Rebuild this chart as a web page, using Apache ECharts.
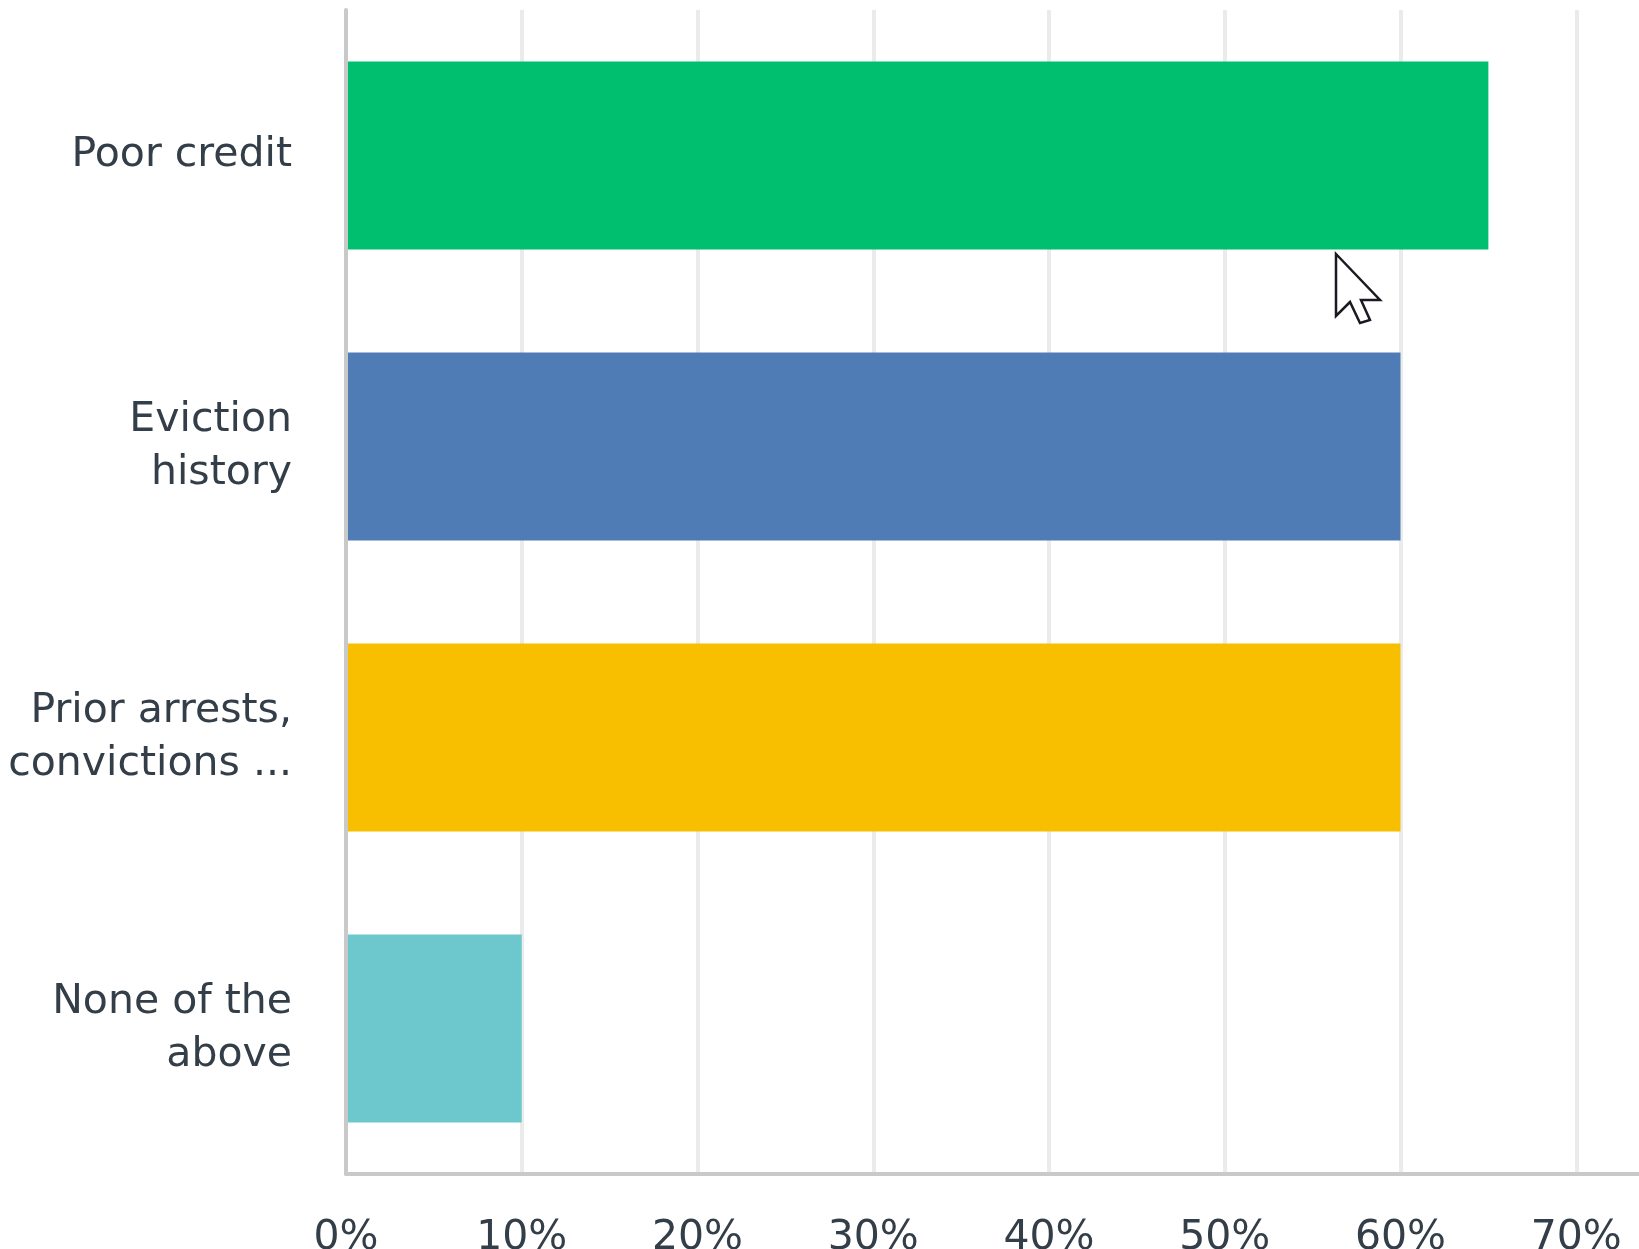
<!DOCTYPE html>
<html>
<head>
<meta charset="utf-8">
<title>Screening criteria</title>
<script src="https://cdn.jsdelivr.net/npm/echarts@6/dist/echarts.min.js"></script>
<style>
  html, body { margin: 0; padding: 0; background: #ffffff; }
  #chart { width: 1639px; height: 1249px; }
</style>
</head>
<body>
<div id="chart"></div>
<script>
// Answer choices, top to bottom (line breaks as shown on the axis)
const categories = [
  'Poor credit',
  'Eviction\nhistory',
  'Prior arrests,\nconvictions ...',
  'None of the\nabove'
];
// Share of respondents, percent
const values = [65, 60, 60, 10];
// One colour per answer choice
const barColors = ['#00BF6F', '#507CB6', '#F8BE00', '#6CC8CD'];
// Percent axis range and step (the plot runs on past the right edge)
const axisMin = 0;
const axisMax = 80;
const axisStep = 10;

const textColor = '#333e48';
const fontFamily = '"DejaVu Sans", sans-serif';

const chart = echarts.init(document.getElementById('chart'), null, { renderer: 'canvas' });

chart.setOption({
  backgroundColor: '#ffffff',
  animation: false,
  grid: {
    left: 346,
    top: 10,
    width: 1406,
    bottom: 75,
    containLabel: false,
    outerBoundsMode: 'none'
  },
  xAxis: {
    type: 'value',
    min: axisMin,
    max: axisMax,
    interval: axisStep,
    axisLine: { show: true, lineStyle: { color: '#c9c9c9', width: 4 } },
    axisTick: { show: false },
    splitLine: { show: true, lineStyle: { color: '#ebebeb', width: 4 } },
    axisLabel: {
      formatter: '{value}%',
      color: textColor,
      fontFamily: fontFamily,
      fontSize: 41,
      margin: 44
    }
  },
  yAxis: {
    type: 'category',
    inverse: true,
    data: categories,
    z: 5,
    axisLine: { show: true, lineStyle: { color: '#c9c9c9', width: 4 } },
    axisTick: { show: false },
    splitLine: { show: false },
    axisLabel: {
      color: textColor,
      fontFamily: fontFamily,
      fontSize: 41,
      lineHeight: 53,
      margin: 54,
      align: 'right',
      padding: [8, 0, 0, 0]
    }
  },
  series: [{
    type: 'bar',
    barWidth: 188,
    data: values.map((v, i) => ({ value: v, itemStyle: { color: barColors[i] } })),
    label: { show: false }
  }],
  graphic: [{
    // mouse pointer resting below the first bar
    type: 'polygon',
    z: 100,
    shape: {
      points: [[1336, 254], [1336, 316], [1350, 302], [1360, 323], [1370, 320], [1361, 300], [1380, 300]]
    },
    style: { fill: '#ffffff', stroke: '#1a1a22', lineWidth: 2.5, lineJoin: 'miter' }
  }]
});
</script>
</body>
</html>
